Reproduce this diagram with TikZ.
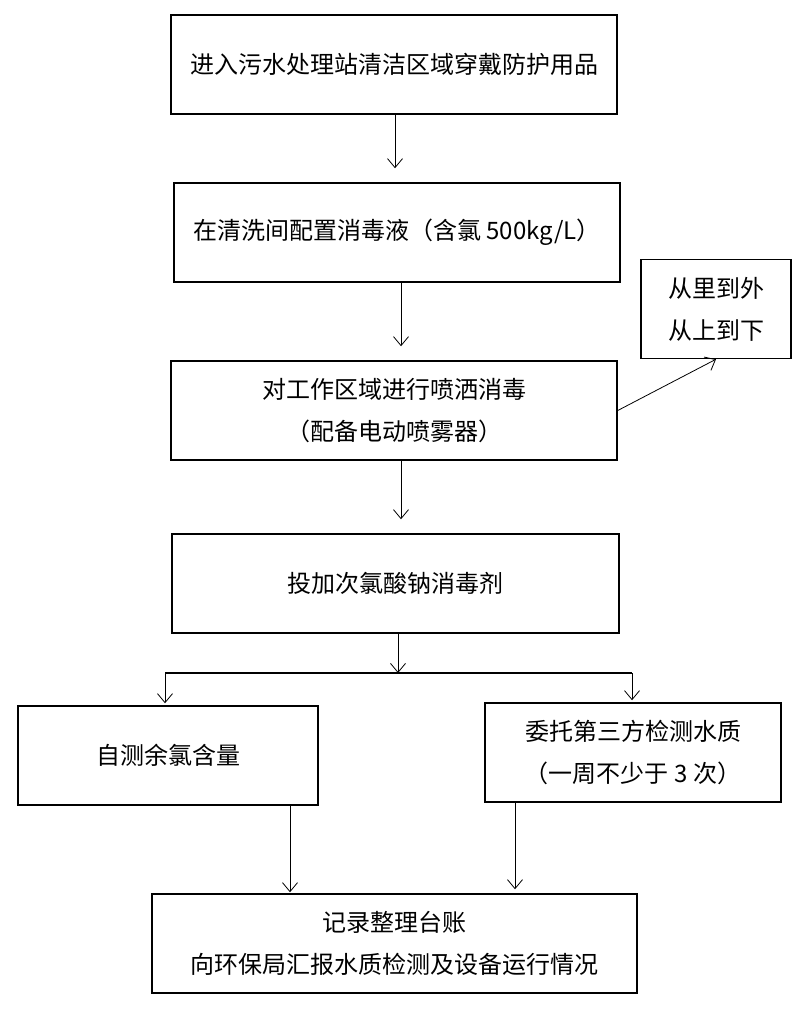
\documentclass[tikz,border=0pt]{standalone}
\usepackage{fontspec}
\setmainfont{Noto Sans CJK SC}
\usetikzlibrary{arrows.meta}

\tikzset{
	box/.style = {draw, line width = 1.5pt, align = center, inner sep = 0pt, minimum height = 99pt},
	link/.style = {->, line width = 0.8pt, shorten > = 14pt}
}

\begin{document}
\begin{tikzpicture}[x = 1pt, y = -1pt, > = {Straight Barb[length = 9pt, width = 15pt]}, font = \fontsize{24}{42}\selectfont]

	% Definitions
	
	\def\ysplit{673}	% Height of the branching line
	\def\xl{165}		% Left and right branch positions
	\def\xr{632}
	
	\useasboundingbox (0, 0) rectangle (800, 1009);
	
	% Draw boxes
	
	\node [box, minimum width = 446pt] (enter) at (394, 64.5) {进入污水处理站清洁区域穿戴防护用品};
	\node [box, minimum width = 446pt] (mix) at (397, 232.5) {在清洗间配置消毒液（含氯 500kg/L）};
	\node [box, minimum width = 446pt] (spray) at (394, 410.5) {对工作区域进行喷洒消毒\\（配备电动喷雾器）};
	\node [box, minimum width = 150pt] (order) at (716, 309) {从里到外\\从上到下};
	\node [box, minimum width = 447pt] (dose) at (395.5, 583.5) {投加次氯酸钠消毒剂};
	\node [box, minimum width = 300pt] (selftest) at (168, 755.5) {自测余氯含量};
	\node [box, minimum width = 296pt] (thirdparty) at (633, 752.5) {委托第三方检测水质\\（一周不少于 3 次）};
	\node [box, minimum width = 485pt] (report) at (394.5, 943.5) {记录整理台账\\向环保局汇报水质检测及设备运行情况};
	
	% Draw arrows down the main column
	
	\foreach \a/\b/\dx in {enter/mix/1, mix/spray/4, spray/dose/7}
		\draw [link] ([xshift = \dx pt] \a.south) -- ([xshift = \dx pt] \a.south |- \b.north);
	
	\draw [->, line width = 0.8pt] (spray.east) -- (order.south);
	
	% Draw branching
	
	\coordinate (split) at (398, \ysplit);
	\coordinate (splitl) at (\xl, \ysplit);
	\coordinate (splitr) at (\xr, \ysplit);
	
	\draw [->, line width = 0.8pt] (split |- dose.south) -- (split);
	\draw [line width = 1.6pt] (splitl) -- (splitr);
	\draw [->, line width = 0.8pt, shorten > = 2pt] (splitl) -- (splitl |- selftest.north);
	\draw [->, line width = 0.8pt, shorten > = 2pt] (splitr) -- (splitr |- thirdparty.north);
	
	% Draw arrows into the report
	
	\draw [->, line width = 0.8pt, shorten > = 1pt] ([xshift = 122pt] selftest.south) -- ([xshift = 122pt] selftest.south |- report.north);
	\draw [->, line width = 0.8pt, shorten > = 4pt] ([xshift = -118pt] thirdparty.south) -- ([xshift = -118pt] thirdparty.south |- report.north);
	
\end{tikzpicture}
\end{document}
